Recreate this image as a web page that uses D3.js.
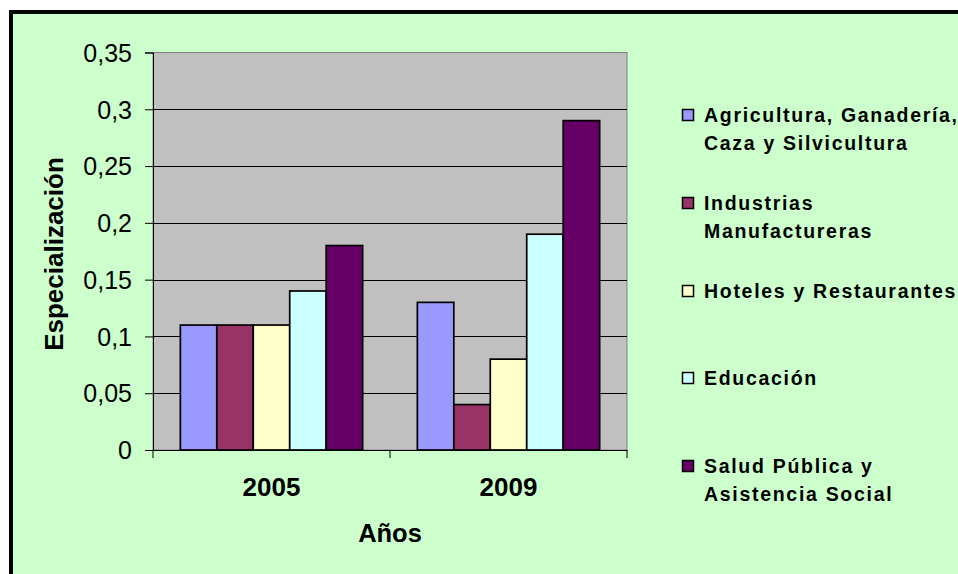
<!DOCTYPE html>
<html>
<head>
<meta charset="utf-8">
<script src="https://cdn.jsdelivr.net/npm/d3@7"></script>
<style>
  body { margin: 0; background: #fff; }
  svg text { font-family: "Liberation Sans", Arial, sans-serif; fill: #000; }
</style>
</head>
<body>
<div id="chart"></div>
<script>
// data
var years = ["2005", "2009"];
var sectors = [
    "Agricultura, Ganadería, Caza y Silvicultura",
    "Industrias Manufactureras",
    "Hoteles y Restaurantes",
    "Educación",
    "Salud Pública y Asistencia Social"
];
var legendLines = [
    ["Agricultura, Ganadería,", "Caza y Silvicultura"],
    ["Industrias", "Manufactureras"],
    ["Hoteles y Restaurantes"],
    ["Educación"],
    ["Salud Pública y", "Asistencia Social"]
];
var agricultura = [0.11, 0.13];
var industrias = [0.11, 0.04];
var hoteles = [0.11, 0.08];
var educacion = [0.14, 0.19];
var salud = [0.18, 0.29];
var yTicks = [0, 0.05, 0.1, 0.15, 0.2, 0.25, 0.3, 0.35];
var colors = ["#9999FF", "#993366", "#FFFFCC", "#CCFFFF", "#660066"];

var series = [agricultura, industrias, hoteles, educacion, salud];

var width = 958, height = 574;
var plot = {left: 153, right: 627, top: 52.5, bottom: 450};

var svg = d3.select("#chart").append("svg")
    .attr("width", width)
    .attr("height", height);

// chart background + frame
svg.append("rect")
    .attr("x", 11).attr("y", 12)
    .attr("width", width + 20).attr("height", height + 20)
    .attr("fill", "#CCFFCC")
    .attr("stroke", "#000")
    .attr("stroke-width", 4);

var xScale = d3.scaleBand()
    .domain(years)
    .range([plot.left, plot.right]);

// 150% gap width like excel
var inner = d3.scaleBand()
    .domain(d3.range(series.length))
    .range([0, xScale.bandwidth()])
    .paddingOuter(0.75)
    .paddingInner(0);

var yScale = d3.scaleLinear()
    .domain([0, 0.35])
    .range([plot.bottom, plot.top]);

// plot area
svg.append("rect")
    .attr("x", plot.left).attr("y", plot.top)
    .attr("width", plot.right - plot.left)
    .attr("height", plot.bottom - plot.top)
    .attr("fill", "#C0C0C0")
    .attr("stroke", "#808080")
    .attr("stroke-width", 1);

// gridlines
svg.append("g").selectAll("line")
    .data(yTicks.filter(function(d){ return d > 0 && d < 0.35; }))
    .enter().append("line")
    .attr("x1", plot.left).attr("x2", plot.right)
    .attr("y1", function(d){ return Math.round(yScale(d)) + 0.5; })
    .attr("y2", function(d){ return Math.round(yScale(d)) + 0.5; })
    .attr("stroke", "#000")
    .attr("stroke-width", 1);

// bars
var groups = svg.append("g").selectAll("g")
    .data(years)
    .enter().append("g")
    .attr("transform", function(d){ return "translate(" + xScale(d) + ",0)"; });

groups.selectAll("rect")
    .data(function(d, i){
        return series.map(function(s, j){ return {s: j, v: s[i]}; });
    })
    .enter().append("rect")
    .attr("x", function(d){ return inner(d.s); })
    .attr("width", inner.bandwidth())
    .attr("y", function(d){ return yScale(d.v); })
    .attr("height", function(d){ return yScale(0) - yScale(d.v); })
    .attr("fill", function(d){ return colors[d.s]; })
    .attr("stroke", "#000")
    .attr("stroke-width", 1.7);

// y axis
var yAxis = d3.axisLeft(yScale)
    .tickValues(yTicks)
    .tickSize(8)
    .tickPadding(13)
    .tickFormat(function(d){ return d3.format("")(d).replace(".", ","); });

var yAxisG = svg.append("g")
    .attr("transform", "translate(" + plot.left + ",0)")
    .call(yAxis);
yAxisG.select(".domain").attr("stroke", "#000");
yAxisG.selectAll("text")
    .style("font-size", "25px")
    .attr("dy", "0.35em");

// x axis
var xAxis = d3.axisBottom(xScale)
    .tickValues([])
    .tickSizeOuter(0);
var xAxisG = svg.append("g")
    .attr("transform", "translate(0," + plot.bottom + ")")
    .call(xAxis);
xAxisG.select(".domain").attr("stroke", "#000");
xAxisG.selectAll(".sep")
    .data([plot.left, xScale("2009"), plot.right])
    .enter().append("line")
    .attr("x1", function(d){ return d; })
    .attr("x2", function(d){ return d; })
    .attr("y1", 0).attr("y2", 8)
    .attr("stroke", "#000");
xAxisG.selectAll(".lbl")
    .data(years)
    .enter().append("text")
    .attr("x", function(d){ return xScale(d) + xScale.bandwidth() / 2; })
    .attr("y", 46)
    .attr("text-anchor", "middle")
    .style("font-size", "26px")
    .style("font-weight", "bold")
    .text(function(d){ return d; });

// axis titles
svg.append("text")
    .attr("x", (plot.left + plot.right) / 2)
    .attr("y", 542)
    .attr("text-anchor", "middle")
    .style("font-size", "25.5px")
    .style("font-weight", "bold")
    .text("Años");

svg.append("text")
    .attr("transform", "translate(62.5," + 254 + ") rotate(-90)")
    .attr("text-anchor", "middle")
    .style("font-size", "26px")
    .style("font-weight", "bold")
    .text("Especialización");

// legend
var legendY = [115, 203, 291, 378, 466];
var legend = svg.append("g").selectAll("g")
    .data(sectors)
    .enter().append("g")
    .attr("transform", function(d, i){ return "translate(682," + legendY[i] + ")"; });

legend.append("rect")
    .attr("x", 0.5).attr("y", -5.5)
    .attr("width", 11).attr("height", 11)
    .attr("fill", function(d, i){ return colors[i]; })
    .attr("stroke", "#000")
    .attr("stroke-width", 1.5);

legend.each(function(d, i){
    var t = d3.select(this).append("text")
        .attr("x", 22)
        .attr("y", 7)
        .style("font-size", "19.5px")
        .style("font-weight", "bold")
        .style("letter-spacing", "1.7px");
    legendLines[i].forEach(function(line, k){
        t.append("tspan")
            .attr("x", 22)
            .attr("dy", k == 0 ? 0 : 28)
            .text(line);
    });
});
</script>
</body>
</html>
